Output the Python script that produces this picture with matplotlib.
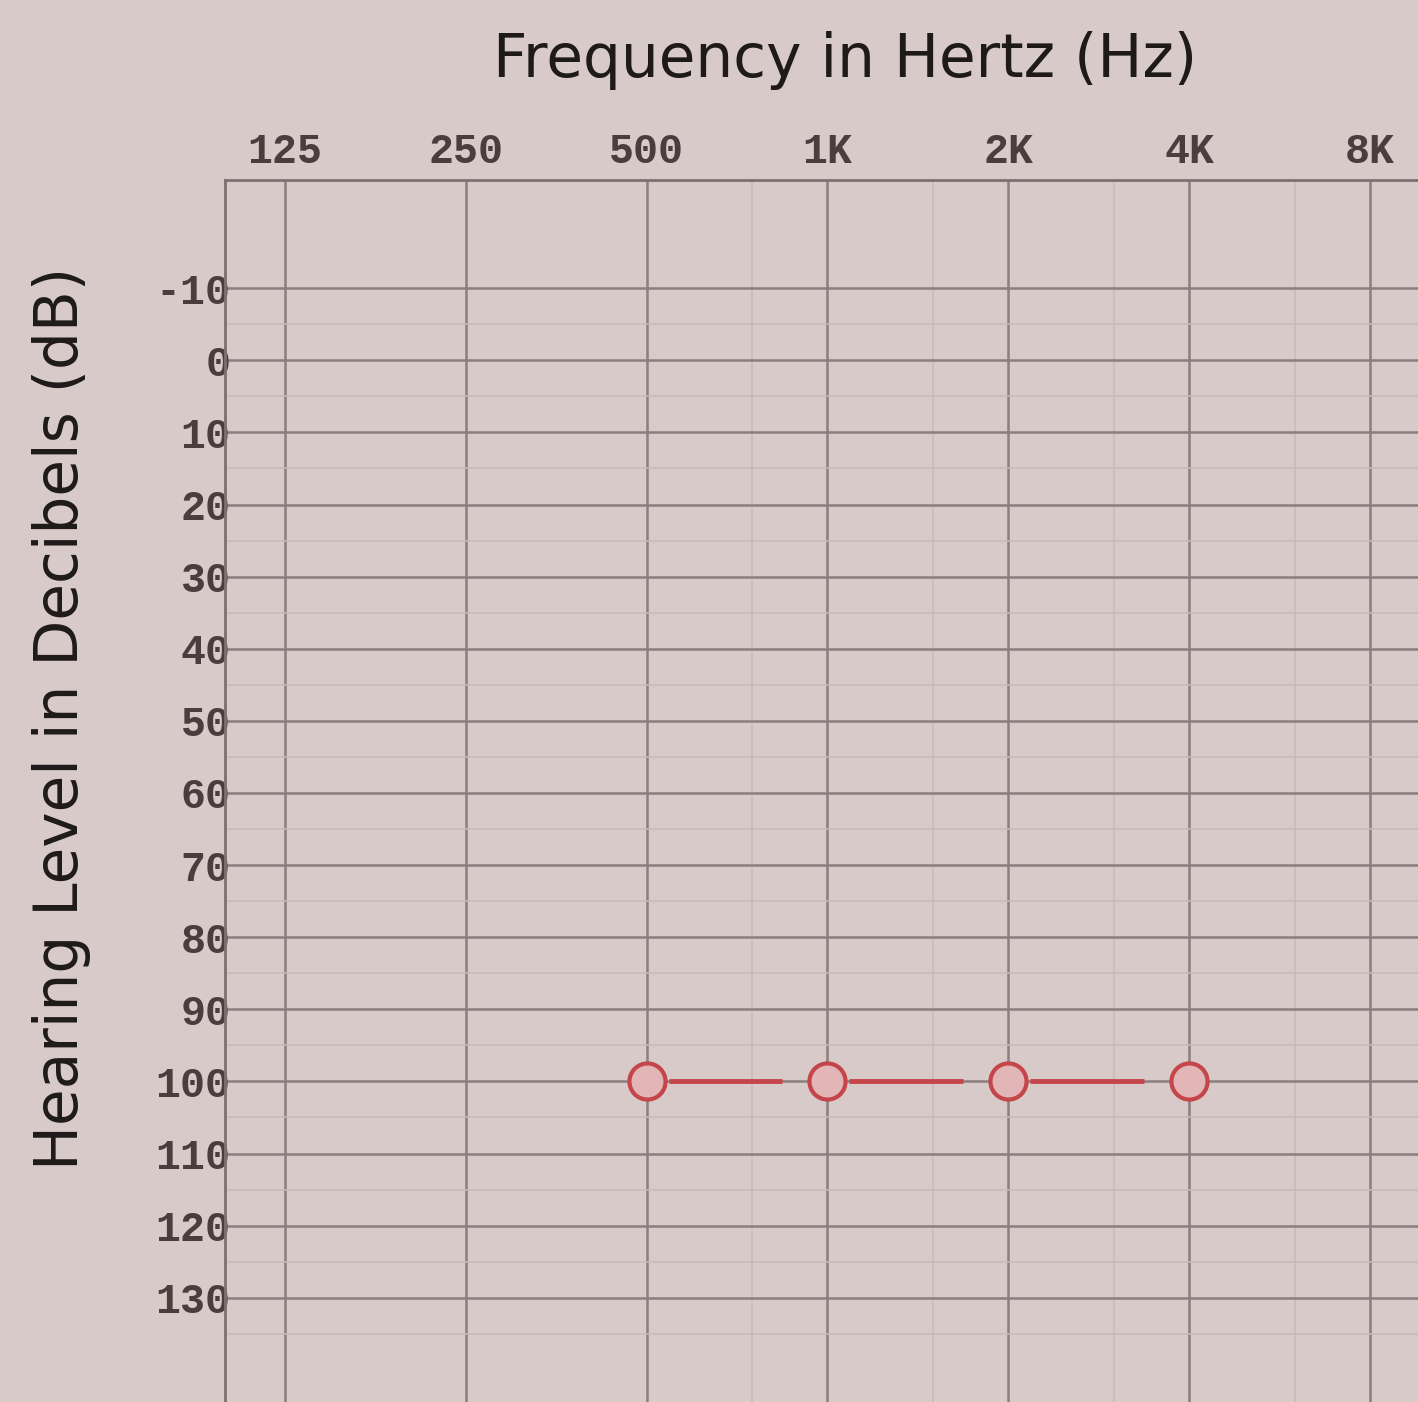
#!/usr/bin/env python3
# -*- coding: utf-8 -*-

import matplotlib
matplotlib.use('Agg')
import matplotlib.pyplot as plt
from matplotlib.ticker import FixedLocator, NullFormatter

# audiogram data
freq_ticks = [125, 250, 500, 1000, 2000, 4000, 8000]
freq_labels = ['125', '250', '500', '1K', '2K', '4K', '8K']
half_octaves = [750, 1500, 3000, 6000]
db_ticks = list(range(-10, 140, 10))
db_labels = [str(v) for v in db_ticks]
db_minor = list(range(-5, 145, 10))

test_freqs = [500, 1000, 2000, 4000]
test_levels = [100, 100, 100, 100]

BG = '#d9caca'
GRID = '#8b7e7f'
TEXT = '#4a3d3d'
RED = '#c4464a'


def plot():
    fig = plt.figure(figsize=(14.18, 14.02), dpi=100, facecolor=BG)
    ax = fig.add_axes([225 / 1418, -0.01, 0.857, 0.8816])
    ax.set_facecolor(BG)

    ax.set_xscale('log')
    ax.set_xlim(99.3, 10480)
    ax.set_ylim(146.4, -25)

    # grid
    ax.xaxis.set_major_locator(FixedLocator(freq_ticks))
    ax.set_xticklabels(freq_labels)
    ax.xaxis.set_minor_locator(FixedLocator(half_octaves))
    ax.xaxis.set_minor_formatter(NullFormatter())
    ax.yaxis.set_major_locator(FixedLocator(db_ticks))
    ax.set_yticklabels(db_labels)
    ax.yaxis.set_minor_locator(FixedLocator(db_minor))
    ax.grid(which='major', color=GRID, lw=1.8)
    ax.grid(which='minor', color='#c9baba', lw=1.1)
    ax.set_axisbelow(True)

    ax.xaxis.tick_top()
    ax.tick_params(which='both', length=0)
    ax.tick_params(axis='x', pad=6)
    ax.tick_params(axis='y', pad=-4)
    for lab in ax.get_xticklabels() + ax.get_yticklabels():
        lab.set_family('Liberation Mono')
        lab.set_weight('bold')
        lab.set_fontsize(30)
        lab.set_color(TEXT)

    for side in ['right', 'bottom']:
        ax.spines[side].set_visible(False)
    for side in ['left', 'top']:
        ax.spines[side].set_color('#7d7070')
        ax.spines[side].set_linewidth(2)

    # red connecting lines, with a gap near each symbol
    gap_l = 2 ** (22 / 181)
    gap_r = 2 ** (45 / 181)
    for i in range(len(test_freqs) - 1):
        ax.plot([test_freqs[i] * gap_l, test_freqs[i + 1] / gap_r],
                [test_levels[i], test_levels[i + 1]],
                color=RED, lw=3.5, solid_capstyle='butt')
    ax.plot(test_freqs, test_levels, ls='none', marker='o', ms=26,
            mfc='#e2b6b6', mec=RED, mew=3)

    fig.text(845 / 1418, 1 - 60 / 1402, 'Frequency in Hertz (Hz)',
             ha='center', va='center', fontsize=43,
             family='DejaVu Sans', color='#1e1a1a')
    fig.text(62 / 1418, 1 - 718 / 1402, 'Hearing Level in Decibels (dB)',
             ha='center', va='center', rotation=90, fontsize=43,
             family='DejaVu Sans', color='#1e1a1a')

    fig.savefig('out.png', dpi=100, facecolor=BG)


def main():
    plot()


if __name__ == '__main__':
    main()
